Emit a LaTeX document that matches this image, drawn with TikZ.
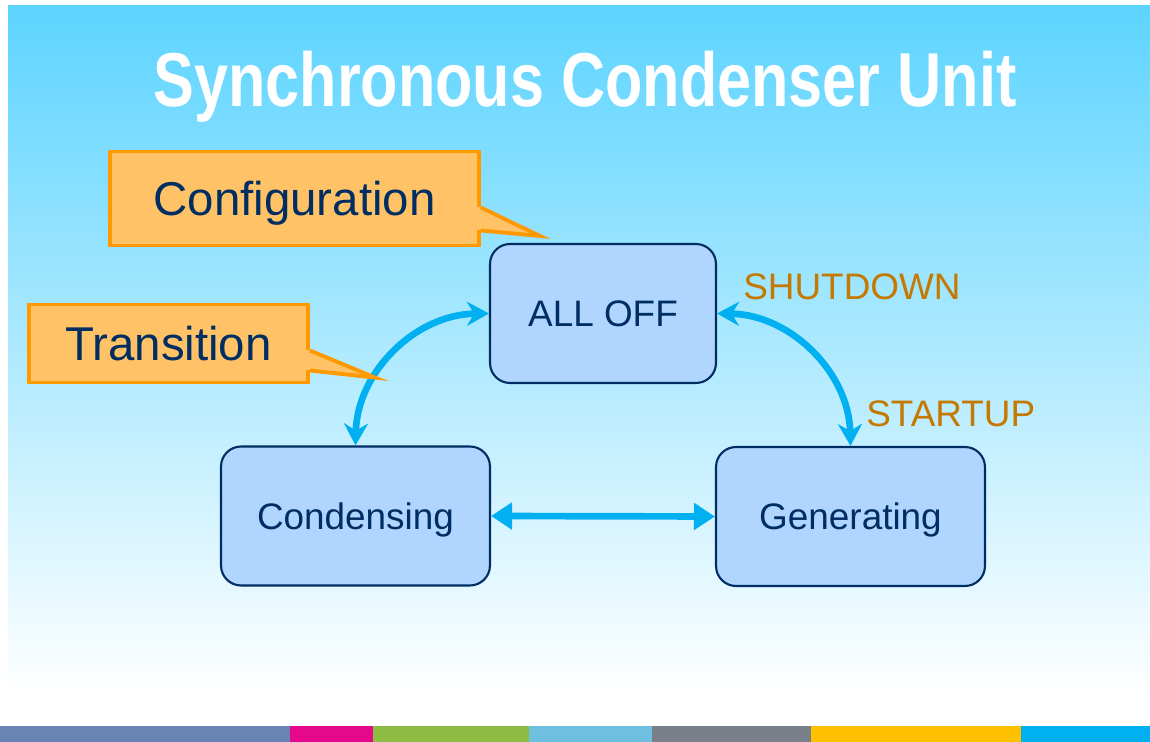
\documentclass[tikz,border=0pt]{standalone}
\usepackage{fontspec}
\setmainfont{Liberation Sans}
\newfontfamily\titlefont[FakeStretch=0.8]{Liberation Sans}
\usepackage{xcolor}
\definecolor{skytop}{RGB}{93,212,255}
\definecolor{navy}{RGB}{0,45,98}
\definecolor{sfill}{RGB}{176,214,255}
\definecolor{arrblue}{RGB}{0,176,240}
\definecolor{cfill}{RGB}{255,194,102}
\definecolor{cedge}{RGB}{255,153,0}
\definecolor{lbrown}{RGB}{196,121,0}
\definecolor{barA}{RGB}{106,131,181}
\definecolor{barB}{RGB}{229,8,138}
\definecolor{barC}{RGB}{141,188,67}
\definecolor{barD}{RGB}{109,192,224}
\definecolor{barE}{RGB}{122,128,137}
\definecolor{barF}{RGB}{255,192,0}
\definecolor{barG}{RGB}{0,176,240}
\usetikzlibrary{arrows.meta,calc}

\begin{document}
\begin{tikzpicture}[
  x=0.02cm, y=-0.02cm,
  state/.style={rectangle,draw=navy,line width=1.2pt,rounded corners=0.4cm,fill=sfill,minimum height=2.78cm,text depth=0pt,text=navy,font=\fontsize{21}{25}\selectfont},
  note/.style={rectangle,draw=cedge,line width=2.2pt,fill=cfill,text depth=0pt,text=navy,font=\fontsize{27}{32}\selectfont},
  notetip/.style={draw=cedge,line width=2.2pt,fill=cfill},
  tlabel/.style={text=lbrown,font=\fontsize{21}{25}\selectfont,inner sep=0pt,anchor=base west},
  trans/.style={<->,>={Stealth[length=0.44cm,width=0.48cm]},arrblue,line width=3.8pt}
]
  \useasboundingbox (0,0) rectangle (1150,742);

  % === Background and colour bar ===
  \shade[top color=skytop,bottom color=white] (8,6) rectangle (1150,695);
  \foreach \xa/\xb/\c in {0/290/barA,290/373/barB,373/529/barC,529/652/barD,652/811/barE,811/1021/barF,1021/1150/barG}
    \fill[\c] (\xa,726) rectangle (\xb,742);

  % === Title ===
  \node[text=white,anchor=base,inner sep=0pt,font=\titlefont\bfseries\fontsize{43.5}{50}\selectfont] (title) at (585,107) {Synchronous Condenser Unit};

  % === States ===
  \node[state,minimum width=4.52cm] (alloff) at (603,313.5) {ALL OFF};
  \node[state,minimum width=5.38cm] (cond) at (355.5,516) {Condensing};
  \node[state,minimum width=5.38cm] (gen) at (850.5,516.5) {Generating};

  % === Transitions ===
  \draw[trans] (cond.north) to[bend left=44] coordinate[pos=0.34] (tpt) (alloff.west);
  \draw[trans] (alloff.east) to[bend left=44] (gen.north);
  \draw[trans,>={Triangle[length=0.42cm,width=0.52cm]}] (cond.east) -- (gen.west);

  \node[tlabel] (shut) at (743,300) {SHUTDOWN};
  \node[tlabel] (start) at (866,427) {STARTUP};

  % === Notes ===
  \node[note,minimum width=7.38cm,minimum height=1.88cm] (cfg) at (294.5,198.5) {Configuration};
  \node[note,minimum width=5.58cm,minimum height=1.56cm] (tr) at (168.5,343.5) {Transition};

  % pointers, the fill covers the box edge under the base
  \coordinate (cfgtip) at (540,236);
  \fill[cfill] ($(cfg.east)+(-4,9)$) rectangle ($(cfg.east)+(2,32)$);
  \draw[notetip] ($(cfg.east)+(0,9)$) -- (cfgtip) -- ($(cfg.east)+(0,32)$);
  \fill[cfill] ($(tr.east)+(-4,7)$) rectangle ($(tr.east)+(2,27)$);
  \draw[notetip] ($(tr.east)+(0,7)$) -- (tpt) -- ($(tr.east)+(0,27)$);
\end{tikzpicture}
\end{document}
